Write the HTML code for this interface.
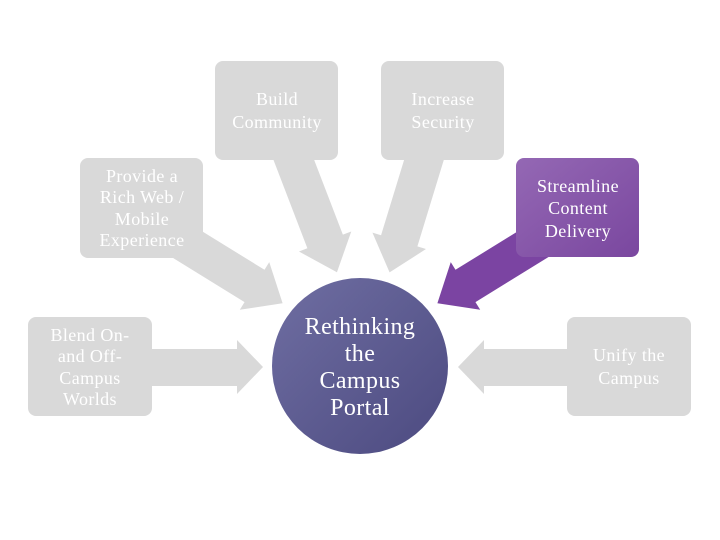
<!DOCTYPE html>
<html><head><style>
html,body{margin:0;padding:0;background:#fff;}
svg{display:block;}
text{font-family:"Liberation Serif",serif;fill:#fff;text-anchor:middle;letter-spacing:0.4px;}
</style></head><body>
<svg width="720" height="540" viewBox="0 0 720 540">
<defs>
<linearGradient id="pg" x1="0" y1="0" x2="1" y2="1">
<stop offset="0" stop-color="#9468b4"/><stop offset="1" stop-color="#7a479f"/>
</linearGradient>
<linearGradient id="cg" x1="0" y1="0" x2="1" y2="1">
<stop offset="0" stop-color="#6f6ea2"/><stop offset="1" stop-color="#4c4a80"/>
</linearGradient>
</defs>
<g fill="#d9d9d9">
<g transform="translate(290,150) rotate(69)"><polygon points="0,-19 98,-19 98,-28 131,0 98,28 98,19 0,19"/></g>
<g transform="translate(427,150) rotate(107)"><polygon points="0,-19 95,-19 95,-28 128,0 95,28 95,19 0,19"/></g>
<g transform="translate(172,235) rotate(31.7)"><polygon points="0,-19 97,-19 97,-28 130,0 97,28 97,19 0,19"/></g>
<polygon points="150,349 237,349 237,340 263,367 237,394 237,386 150,386"/>
<polygon points="570,349 484,349 484,340 458,367 484,394 484,386 570,386"/>
<rect x="215" y="61" width="123" height="99" rx="8"/>
<rect x="381" y="61" width="123" height="99" rx="8"/>
<rect x="80" y="158" width="123" height="100" rx="8"/>
<rect x="28" y="317" width="124" height="99" rx="8"/>
<rect x="567" y="317" width="124" height="99" rx="8"/>
</g>
<g transform="translate(548,235) rotate(148.3)" fill="#7b44a2"><polygon points="0,-19 97,-19 97,-28 130,0 97,28 97,19 0,19"/></g>
<rect x="516" y="158" width="123" height="99" rx="8" fill="url(#pg)"/>
<circle cx="360" cy="366" r="88" fill="url(#cg)"/>
<g font-size="18">
<text x="277" y="105">Build</text><text x="277" y="128">Community</text>
<text x="443" y="105">Increase</text><text x="443" y="128">Security</text>
<text x="142" y="182">Provide a</text><text x="142" y="203">Rich Web /</text><text x="142" y="225">Mobile</text><text x="142" y="246">Experience</text>
<text x="90" y="341">Blend On-</text><text x="90" y="362">and Off-</text><text x="90" y="384">Campus</text><text x="90" y="405">Worlds</text>
<text x="629" y="361">Unify the</text><text x="629" y="384">Campus</text>
<text x="578" y="192">Streamline</text><text x="578" y="214">Content</text><text x="578" y="237">Delivery</text>
</g>
<g font-size="24">
<text x="360" y="334">Rethinking</text><text x="360" y="361">the</text><text x="360" y="388">Campus</text><text x="360" y="415">Portal</text>
</g>
</svg>
</body></html>
